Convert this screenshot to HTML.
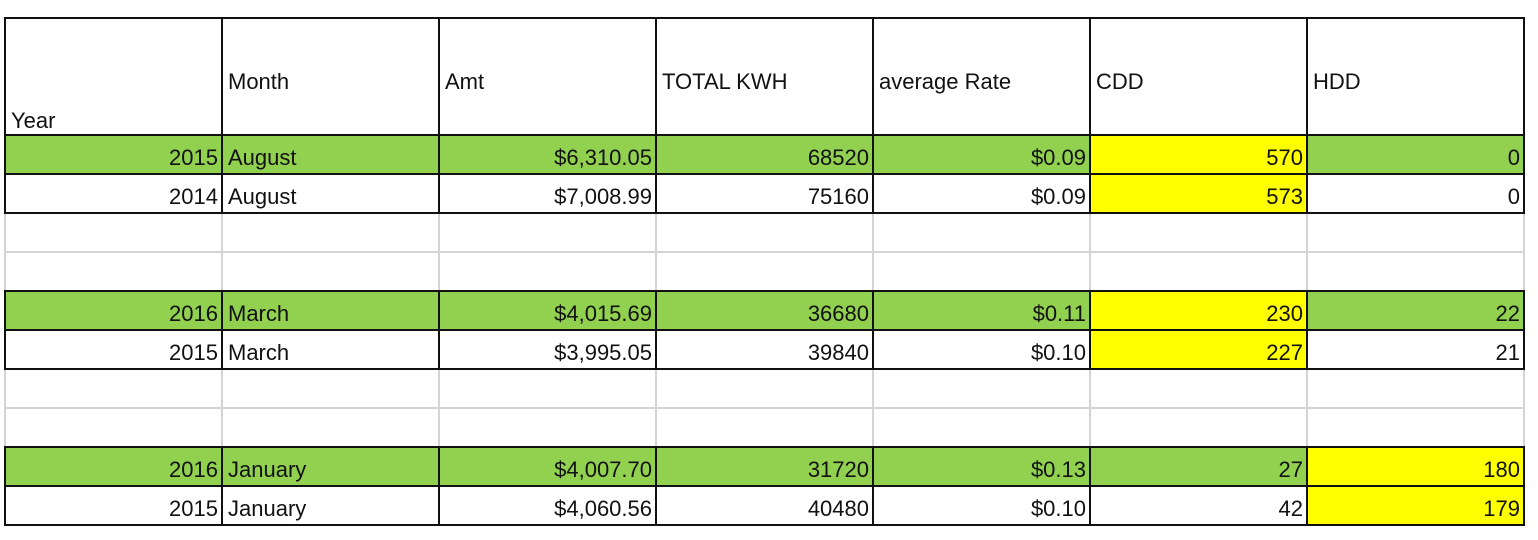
<!DOCTYPE html>
<html><head><meta charset="utf-8"><style>
body{margin:0;background:#fff;width:1538px;height:540px;position:relative;overflow:hidden;font-family:"Liberation Sans",sans-serif;font-size:22px;color:#111}
.c{position:absolute;box-sizing:border-box;}
.t{position:absolute;white-space:nowrap;line-height:24px}
.r{text-align:right}
.h{position:absolute;background:#111;height:2px}
.v{position:absolute;background:#111;width:2px}
.gh{position:absolute;background:#d4d4d4;height:2px}
.gv{position:absolute;background:#d4d4d4;width:2px}
</style></head><body>
<script>
const X=[5,222,439,656,873,1090,1307,1524];
const root=document.body;
function add(cls,style,txt){const d=document.createElement('div');d.className=cls;d.setAttribute('style',style);if(txt!==undefined)d.textContent=txt;root.appendChild(d);}
const G='#92d050',Y='#ffff00';
const rows=[
[135,174,[G,G,G,G,G,Y,G],['2015','August','$6,310.05','68520','$0.09','570','0']],
[174,213,[0,0,0,0,0,Y,0],['2014','August','$7,008.99','75160','$0.09','573','0']],
[291,330,[G,G,G,G,G,Y,G],['2016','March','$4,015.69','36680','$0.11','230','22']],
[330,369,[0,0,0,0,0,Y,0],['2015','March','$3,995.05','39840','$0.10','227','21']],
[447,486,[G,G,G,G,G,G,Y],['2016','January','$4,007.70','31720','$0.13','27','180']],
[486,525,[0,0,0,0,0,0,Y],['2015','January','$4,060.56','40480','$0.10','42','179']]];
[[213,291],[369,447]].forEach(([a,b])=>{
 const m=(a+b)/2;
 add('gh',`left:${X[0]}px;width:${X[7]-X[0]}px;top:${m-1}px`);
 X.forEach(x=>add('gv',`left:${x-1}px;top:${a}px;height:${b-a}px`));
});
rows.forEach(([a,b,f,v])=>{
 for(let i=0;i<7;i++){
  if(f[i])add('c',`left:${X[i]}px;top:${a}px;width:${X[i+1]-X[i]}px;height:${b-a}px;background:${f[i]}`);
  if(i==1)add('t',`left:${X[1]+6}px;top:${a+11}px`,v[i]);
  else add('t r',`left:${X[i]}px;width:${X[i+1]-X[i]-4}px;top:${a+11}px`,v[i]);
 }
});
const H=['Month','Amt','TOTAL KWH','average Rate','CDD','HDD'];
add('t',`left:${X[0]+6}px;top:109px`,'Year');
H.forEach((h,i)=>add('t',`left:${X[i+1]+6}px;top:70px`,h));
[[18,135],[135,213],[291,369],[447,525]].forEach(([a,b])=>{
 X.forEach(x=>add('v',`left:${x-1}px;top:${a-1}px;height:${b-a+2}px`));
});
[18,135,174,213,291,330,369,447,486,525].forEach(y=>add('h',`left:${X[0]-1}px;width:${X[7]-X[0]+2}px;top:${y-1}px`));
</script>
</body></html>
